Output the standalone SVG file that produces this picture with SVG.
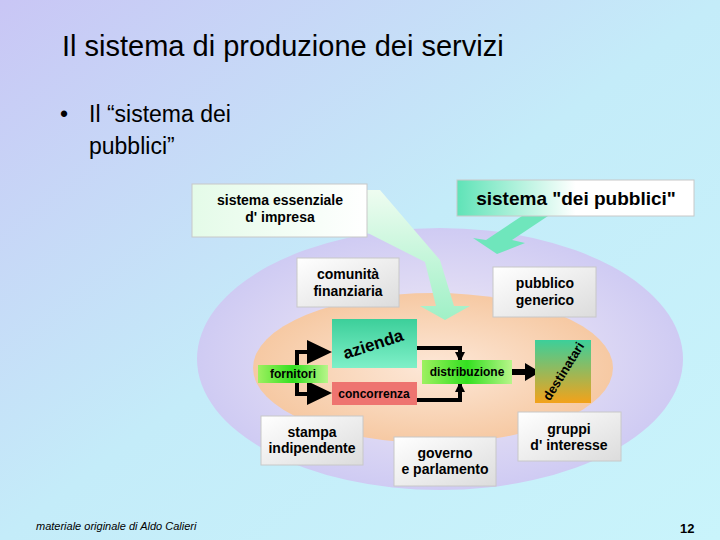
<svg xmlns="http://www.w3.org/2000/svg" width="720" height="540" viewBox="0 0 720 540">
<defs>
<linearGradient id="bg" x1="0" y1="0" x2="1" y2="1"><stop offset="0" stop-color="#c9c6f5"/><stop offset="0.5" stop-color="#c4ecf9"/><stop offset="1" stop-color="#c9f4fb"/></linearGradient>
<radialGradient id="ell" cx="0.5" cy="0.5" r="0.5"><stop offset="0" stop-color="#f4eef6"/><stop offset="1" stop-color="#cfcbf3"/></radialGradient>
<radialGradient id="peach" cx="0.5" cy="0.5" r="0.5"><stop offset="0" stop-color="#fde8d8"/><stop offset="1" stop-color="#f6c9a3"/></radialGradient>
<linearGradient id="box" x1="0" y1="0" x2="1" y2="1"><stop offset="0" stop-color="#ffffff"/><stop offset="1" stop-color="#dcdcdc"/></linearGradient>
<linearGradient id="sess" x1="0" y1="0" x2="1" y2="0"><stop offset="0" stop-color="#e4fbe8"/><stop offset="1" stop-color="#ffffff"/></linearGradient>
<linearGradient id="sdp" x1="0" y1="0" x2="1" y2="0"><stop offset="0" stop-color="#5fe3b7"/><stop offset="0.5" stop-color="#ffffff"/></linearGradient>
<linearGradient id="az" x1="0" y1="0" x2="0" y2="1"><stop offset="0" stop-color="#3ccf9a"/><stop offset="1" stop-color="#7ff0c8"/></linearGradient>
<linearGradient id="dest" x1="0" y1="0" x2="0" y2="1"><stop offset="0" stop-color="#3ccf9a"/><stop offset="1" stop-color="#f3a21a"/></linearGradient>
<linearGradient id="lg" x1="0" y1="0" x2="1" y2="0"><stop offset="0" stop-color="#9ef060"/><stop offset="0.5" stop-color="#33e020"/><stop offset="1" stop-color="#b8f58a"/></linearGradient>
<linearGradient id="arr" x1="0" y1="0" x2="0" y2="1"><stop offset="0" stop-color="#eefcf0"/><stop offset="1" stop-color="#9ff0c6"/></linearGradient>
<marker id="ah" markerWidth="10" markerHeight="10" refX="8" refY="5" orient="auto" markerUnits="userSpaceOnUse"><path d="M0,0 L10,5 L0,10 Z" fill="#000"/></marker>
</defs>
<style>
text{font-family:"Liberation Sans",Arial,sans-serif;fill:#000}
.b{font-weight:bold;font-size:14px;text-anchor:middle}
.nb{fill:url(#box);stroke:#c8c8c8;stroke-width:1}
.ln{fill:none;stroke:#000;stroke-width:4}
</style>
<rect width="720" height="540" fill="url(#bg)"/>
<text x="62" y="56" font-size="29">Il sistema di produzione dei servizi</text>
<text x="60" y="122" font-size="23">•</text>
<text x="89" y="122" font-size="23">Il “sistema dei</text>
<text x="89" y="154" font-size="23">pubblici”</text>
<text x="36" y="530" font-size="11" font-style="italic">materiale originale di Aldo Calieri</text>
<text x="680" y="533" font-size="13" font-weight="bold">12</text>

<ellipse cx="440" cy="359" rx="243" ry="131" fill="url(#ell)"/>
<ellipse cx="433" cy="368" rx="180" ry="75" fill="url(#peach)"/>

<g id="connectors">
<path d="M352,190 L380,190 L440,260 L454,306 L470,306 L445,320 L420,306 L436,306 L425,262 L352,225 Z" fill="url(#arr)"/>
<path d="M522,216 L548,216 L512,240 L525,243 L497,254 L473,238 L486,240 Z" fill="#6fe6bc"/>
<path class="ln" d="M308,352 L297,352 L297,394 L308,394"/>
<path d="M307,340 L332,352 L307,364 Z M307,381 L332,393 L307,405 Z" fill="#000"/>
<path class="ln" d="M417,348 L460,348 L460,360" marker-end="url(#ah)"/>
<path class="ln" d="M417,400 L460,400 L460,384" marker-end="url(#ah)"/>
<path d="M512,369 L525,369 L525,363 L540,372 L525,381 L525,375 L512,375 Z" fill="#000"/>
</g>

<g id="sistema-essenziale"><rect x="192" y="184" width="175" height="53" fill="url(#sess)" stroke="#c8c8c8"/><text class="b" x="280" y="205">sistema essenziale</text><text class="b" x="280" y="222">d' impresa</text></g>
<g id="sistema-pubblici"><rect x="457" y="180" width="237" height="36" fill="url(#sdp)" stroke="#c8c8c8"/><text x="576" y="205" font-size="19" font-weight="bold" text-anchor="middle">sistema "dei pubblici"</text></g>
<g id="comunita"><rect class="nb" x="297" y="258" width="102" height="49"/><text class="b" x="348" y="279">comunità</text><text class="b" x="348" y="296">finanziaria</text></g>
<g id="pubblico"><rect class="nb" x="493" y="267" width="103" height="50"/><text class="b" x="545" y="288">pubblico</text><text class="b" x="545" y="305">generico</text></g>
<g id="azienda"><rect x="332" y="319" width="85" height="49" fill="url(#az)"/><text x="373" y="350" font-size="17" font-weight="bold" text-anchor="middle" transform="rotate(-18 373 344)">azienda</text></g>
<g id="concorrenza"><rect x="332" y="382" width="85" height="23" fill="#ee7470"/><text x="374" y="398" font-size="12" font-weight="bold" text-anchor="middle">concorrenza</text></g>
<g id="fornitori"><rect x="258" y="365" width="70" height="18" fill="url(#lg)"/><text x="293" y="378" font-size="12" font-weight="bold" text-anchor="middle">fornitori</text></g>
<g id="distribuzione"><rect x="422" y="360" width="90" height="24" fill="url(#lg)"/><text x="467" y="376" font-size="12" font-weight="bold" text-anchor="middle">distribuzione</text></g>
<g id="destinatari"><rect x="535" y="340" width="56" height="63" fill="url(#dest)"/><text x="563" y="376" font-size="13" font-weight="bold" text-anchor="middle" transform="rotate(-58 563 371)">destinatari</text></g>
<g id="stampa"><rect class="nb" x="261" y="416" width="102" height="49"/><text class="b" x="312" y="437">stampa</text><text class="b" x="312" y="453">indipendente</text></g>
<g id="governo"><rect class="nb" x="394" y="437" width="102" height="49"/><text class="b" x="445" y="458">governo</text><text class="b" x="445" y="474">e parlamento</text></g>
<g id="gruppi"><rect class="nb" x="518" y="412" width="103" height="49"/><text class="b" x="569" y="434">gruppi</text><text class="b" x="569" y="450">d' interesse</text></g>
</svg>
